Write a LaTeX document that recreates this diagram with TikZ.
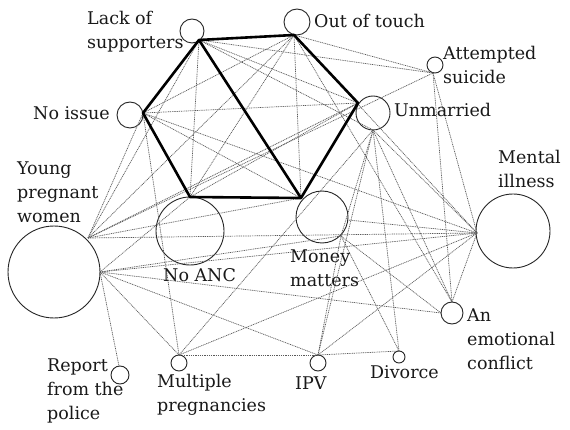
\documentclass[tikz,border=0pt]{standalone}
\usepackage{fontspec}
\setmainfont{DejaVu Serif}
\begin{document}
\begin{tikzpicture}[x=1pt,y=-1pt,
  circ/.style={circle,draw=black!85,line width=0.9pt,inner sep=0pt,minimum size=#1},
  lbl/.style={align=left,inner sep=0pt,font=\fontsize{17.5}{24}\selectfont,text=black!90},
  thin link/.style={draw=black!65,line width=0.7pt,dash pattern=on 1pt off 0.8pt},
  thick link/.style={draw=black,line width=2.6pt,line join=round}]
\useasboundingbox[fill=white] (0,0) rectangle (570,430);
% circles
\node[circ=24pt] (L) at (192,31) {};
\node[circ=26pt] (O) at (297,22) {};
\node[circ=16pt] (A) at (435,65) {};
\node[circ=34pt] (U) at (373,113) {};
\node[circ=26pt] (N) at (130,115) {};
\node[circ=92pt] (Y) at (54,272) {};
\node[circ=68pt] (C) at (190,231) {};
\node[circ=52pt] (M) at (322,217) {};
\node[circ=74pt] (MI) at (513,231) {};
\node[circ=22pt] (E) at (452,313) {};
\node[circ=12pt] (D) at (399,357) {};
\node[circ=16pt] (I) at (318,363) {};
\node[circ=16pt] (MP) at (179,363) {};
\node[circ=18pt] (R) at (120,375) {};
% hub points on the circles
\coordinate (lh) at (199,40);
\coordinate (oh) at (294,35);
\coordinate (ah) at (433,73);
\coordinate (u1) at (358,103);
\coordinate (u2) at (373,130);
\coordinate (nh) at (143,113);
\coordinate (y1) at (88,238);
\coordinate (y2) at (100,272);
\coordinate (ch) at (190,197);
\coordinate (m1) at (301,198);
\coordinate (m2) at (341,236);
\coordinate (m3) at (348,220);
\coordinate (mih) at (477,233);
\coordinate (eh) at (452,302);
\coordinate (el) at (441,313);
\coordinate (dh) at (399,351);
\coordinate (ih) at (318,355);
\coordinate (mph) at (179,355);
\coordinate (rh) at (119,366);
% thin links
\foreach \a/\b in {nh/oh,nh/u1,lh/u1,oh/ch,oh/m1,nh/m1,ch/u1,lh/ch,
  y1/nh,y1/lh,y1/oh,y1/u1,y1/m1,y1/mih,
  y2/ch,y2/m2,y2/mih,y2/el,y2/ih,y2/mph,y2/rh,
  u2/mph,u2/ih,u2/dh,u2/eh,u2/mih,u2/m2,
  oh/ah,ah/y1,ah/eh,ah/mih,lh/ah,
  mih/m3,mih/oh,mih/mph,mih/ih,mih/eh,mih/nh,
  eh/oh,el/m2,ih/m2,ih/dh,ih/mph,dh/m2,nh/mph,lh/u2}
  \draw[thin link] (\a) -- (\b);
% thick links
\draw[thick link] (nh) -- (lh) -- (oh) -- (u1) -- (m1) -- (ch) -- cycle;
\draw[thick link] (lh) -- (m1);
% labels
\node[lbl,anchor=west] (tL) at (87,32) {Lack of\\supporters};
\node[lbl,anchor=west] (tO) at (314,21) {Out of touch};
\node[lbl,anchor=west] (tA) at (443,65) {Attempted\\suicide};
\node[lbl,anchor=west] (tU) at (394,110) {Unmarried};
\node[lbl,anchor=west] (tN) at (33,113) {No issue};
\node[lbl,anchor=west] (tY) at (17,192) {Young\\pregnant\\women};
\node[lbl,anchor=west] (tMI) at (498,169) {Mental\\illness};
\node[lbl,anchor=west] (tC) at (163,275) {No ANC};
\node[lbl,anchor=west] (tM) at (290,268) {Money\\matters};
\node[lbl,anchor=west] (tE) at (467,339) {An\\emotional\\conflict};
\node[lbl,anchor=west] (tD) at (370,372) {Divorce};
\node[lbl,anchor=west] (tI) at (295,383) {IPV};
\node[lbl,anchor=west] (tMP) at (157,395) {Multiple\\pregnancies};
\node[lbl,anchor=west] (tR) at (47,391) {Report\\from the\\police};
\end{tikzpicture}
\end{document}
